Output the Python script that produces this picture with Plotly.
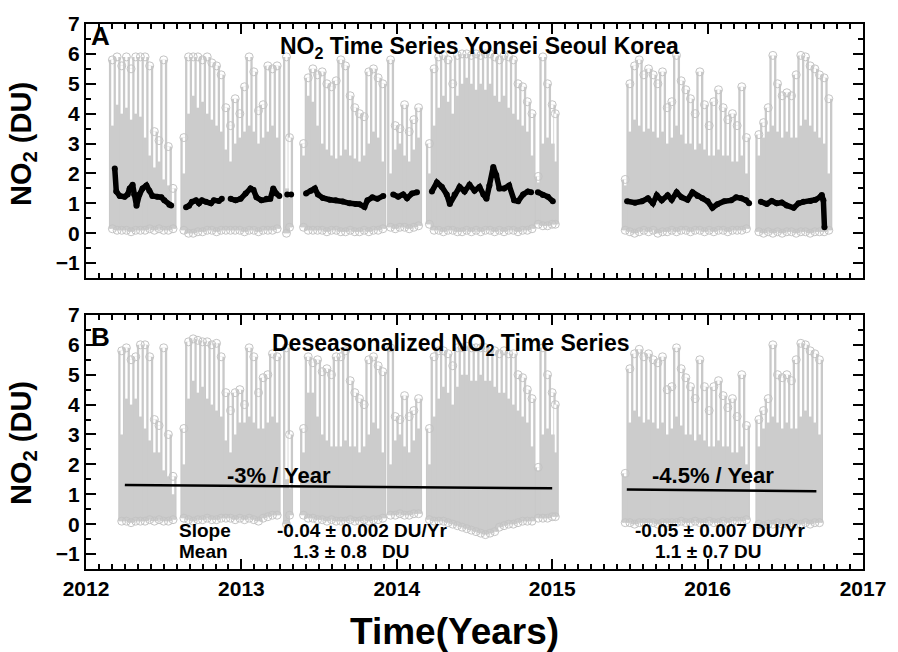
import math
import plotly.graph_objects as go

nan = float("nan")

# ---- observation columns (decimal year) -------------------------------------
col_time = [
    2012.17, 2012.20, 2012.23, 2012.26, 2012.29, 2012.32, 2012.35, 2012.38, 2012.41, 2012.44, 2012.47, 2012.50, 2012.53, 2012.56,
    2012.63, 2012.66, 2012.69, 2012.72, 2012.75, 2012.78, 2012.81, 2012.84, 2012.87, 2012.90,
    2012.93, 2012.96, 2012.99, 2013.02, 2013.05, 2013.08, 2013.11, 2013.14, 2013.17, 2013.20, 2013.23,
    2013.29, 2013.31,
    2013.40, 2013.43, 2013.46, 2013.49, 2013.52, 2013.55, 2013.58, 2013.61, 2013.64, 2013.67, 2013.70, 2013.73, 2013.76, 2013.79, 2013.82, 2013.85, 2013.88, 2013.91,
    2013.96, 2013.99, 2014.02, 2014.05, 2014.08, 2014.11, 2014.14,
    2014.21, 2014.24, 2014.27, 2014.30, 2014.33, 2014.36, 2014.39, 2014.42, 2014.45, 2014.48, 2014.51, 2014.54, 2014.57, 2014.60, 2014.63, 2014.66, 2014.69, 2014.72, 2014.75, 2014.78, 2014.81, 2014.84, 2014.87,
    2014.91, 2014.94, 2014.97, 2015.00, 2015.02,
    2015.47, 2015.50, 2015.53, 2015.56, 2015.59, 2015.62, 2015.65, 2015.68, 2015.71, 2015.74, 2015.77, 2015.80, 2015.83, 2015.86, 2015.89, 2015.92, 2015.95, 2015.98, 2016.01, 2016.04, 2016.07, 2016.10, 2016.13, 2016.16, 2016.19, 2016.22, 2016.25,
    2016.33, 2016.36, 2016.39, 2016.42, 2016.45, 2016.48, 2016.51, 2016.54, 2016.57, 2016.60, 2016.63, 2016.66, 2016.69, 2016.72, 2016.75, 2016.78,
]

# Panel A: raw NO2 columns (DU) - lowest value, top of the dense band, highest value
a_low = [
    0.15, 0.10, 0.10, 0.10, 0.05, 0.10, 0.10, 0.10, 0.15, 0.10, 0.15, 0.10, 0.10, 0.15,
    0.10, 0.00, 0.00, 0.05, 0.05, 0.10, 0.10, 0.05, 0.10, 0.10,
    0.10, 0.10, 0.10, 0.05, 0.10, 0.10, 0.05, 0.10, 0.10, 0.10, 0.15,
    0.00, 0.20,
    0.20, 0.10, 0.10, 0.10, 0.10, 0.05, 0.10, 0.10, 0.05, 0.05, 0.10, 0.05, 0.05, 0.10, 0.05, 0.10, 0.10, 0.15,
    0.20, 0.15, 0.20, 0.20, 0.15, 0.20, 0.25,
    0.30, 0.10, 0.10, 0.05, 0.10, 0.10, 0.05, 0.05, 0.10, 0.05, 0.10, 0.05, 0.10, 0.10, 0.05, 0.10, 0.05, 0.10, 0.10, 0.05, 0.10, 0.10, 0.15,
    0.30, 0.25, 0.25, 0.30, 0.30,
    0.10, 0.05, 0.00, 0.05, 0.10, 0.05, 0.10, 0.00, 0.05, 0.05, 0.10, 0.05, 0.10, 0.10, 0.05, 0.10, 0.10, 0.05, 0.10, 0.05, 0.10, 0.10, 0.05, 0.10, 0.10, 0.10, 0.15,
    0.05, 0.00, 0.05, 0.00, 0.05, 0.00, 0.05, 0.05, 0.00, 0.05, 0.05, 0.00, 0.05, 0.05, 0.05, 0.10,
]
a_dense = [
    3.6, 4.3, 4.0, 4.2, 3.8, 4.0, 3.9, 3.2, 2.6, 2.2, 2.4, 1.8, 1.6, 1.0,
    2.0, 4.0, 4.6, 4.2, 4.4, 4.0, 3.8, 3.6, 3.4, 2.8,
    2.4, 3.0, 3.2, 3.4, 3.6, 3.4, 3.0, 3.2, 3.4, 3.6, 3.2,
    1.5, 1.2,
    2.6, 4.6, 4.4, 3.6, 3.0, 2.8, 2.6, 2.5, 2.6, 2.8, 2.6, 2.5, 2.4, 2.6, 3.0, 3.4, 3.2, 2.4,
    2.0, 2.8, 3.0, 2.6, 2.4, 2.8, 3.2,
    2.0, 3.6, 4.2, 4.6, 4.4, 4.0, 4.6, 5.0, 5.2, 5.0, 4.8, 5.0, 4.8, 5.0, 4.6, 4.4, 4.6, 4.2, 4.0, 3.8, 3.6, 3.4, 2.6,
    1.7, 3.0, 3.2, 3.0, 2.4,
    1.6, 3.4, 3.8, 3.6, 3.4, 3.5, 3.4, 3.2, 3.4, 3.0, 3.2, 3.6, 3.3, 3.0, 3.0, 2.8, 3.0, 2.8, 2.6, 2.6, 2.8, 2.6, 2.6, 2.4, 2.4, 2.6, 2.0,
    2.6, 3.2, 3.4, 3.6, 3.4, 3.2, 3.4, 3.2, 3.2, 3.6, 3.8, 3.6, 3.4, 3.2, 3.0, 2.0,
]
a_peak = [
    5.8, 5.9, 5.6, 5.9, 5.5, 5.9, 5.9, 5.9, 5.6, 3.4, 3.1, 5.8, 2.9, 1.5,
    3.2, 5.9, 5.9, 5.9, 5.8, 5.9, 5.7, 5.6, 5.3, 4.2,
    3.6, 4.5, 4.0, 4.9, 5.9, 5.4, 4.1, 4.3, 5.6, 5.5, 5.6,
    5.9, 3.2,
    3.0, 5.2, 5.5, 5.3, 5.4, 5.0, 4.9, 5.1, 5.8, 5.6, 4.6, 4.2, 4.0, 3.9, 5.4, 5.5, 5.2, 5.0,
    5.8, 3.6, 3.5, 4.3, 3.4, 3.8, 4.2,
    3.0, 5.5, 5.9, 5.95, 5.8, 5.0, 5.95, 6.0, 6.0, 5.95, 6.0, 5.95, 6.0, 6.0, 5.9, 5.8, 5.95, 5.9, 5.8, 5.0, 4.9, 4.4, 4.0,
    1.9, 5.9, 5.0, 4.3, 4.0,
    1.8, 5.0, 5.6, 5.8, 5.3, 5.5, 5.3, 5.0, 5.4, 4.2, 4.4, 5.95, 5.1, 4.8, 4.5, 4.0, 5.4, 4.3, 3.6, 4.4, 4.8, 4.2, 3.8, 4.0, 3.6, 4.9, 3.2,
    3.3, 3.7, 4.2, 5.95, 5.0, 4.6, 4.7, 4.6, 5.3, 5.95, 5.9, 5.6, 5.5, 5.3, 5.2, 4.5,
]

# Panel B: deseasonalized NO2 columns (DU)
b_low = [
    nan, nan, 0.10, 0.10, 0.05, 0.10, 0.10, 0.10, 0.15, 0.10, 0.15, 0.10, 0.10, 0.15,
    0.20, 0.15, 0.10, 0.15, 0.15, 0.20, 0.15, 0.15, 0.20, 0.20,
    0.20, 0.15, 0.20, 0.15, 0.20, 0.15, 0.10, 0.20, 0.25, 0.30, 0.30,
    0.00, 0.30,
    0.30, 0.20, 0.20, 0.15, 0.15, 0.10, 0.15, 0.10, 0.10, 0.10, 0.15, 0.10, 0.10, 0.15, 0.10, 0.15, 0.15, 0.20,
    0.30, 0.30, 0.35, 0.30, 0.30, 0.35, 0.35,
    0.15, 0.10, 0.10, 0.10, 0.05, 0.00, -0.05, -0.10, -0.15, -0.20, -0.25, -0.30, -0.35, -0.30, -0.25, -0.10, -0.05, 0.00, 0.00, 0.05, 0.10, 0.10, 0.10,
    0.20, 0.20, 0.20, 0.25, 0.25,
    0.05, 0.05, 0.00, 0.05, 0.05, 0.05, 0.05, 0.00, 0.05, 0.05, 0.05, 0.05, 0.10, 0.05, 0.05, 0.10, 0.05, 0.05, 0.10, 0.05, 0.05, 0.10, 0.05, 0.10, 0.10, 0.10, 0.15,
    0.00, -0.05, 0.00, 0.00, 0.05, 0.00, 0.00, 0.05, 0.00, 0.00, 0.05, 0.00, 0.05, 0.05, nan, nan,
]
b_dense = [
    nan, nan, 3.0, 4.2, 4.0, 4.2, 3.6, 3.2, 2.8, 2.4, 2.4, 1.8, 1.6, 1.0,
    2.0, 4.2, 4.8, 4.4, 4.6, 4.2, 4.0, 3.8, 3.6, 2.8,
    2.4, 3.0, 3.4, 3.4, 3.6, 3.4, 3.2, 3.2, 3.4, 3.6, 3.4,
    1.5, 1.2,
    2.4, 4.4, 4.4, 3.6, 3.0, 2.8, 2.6, 2.6, 2.6, 2.8, 2.6, 2.6, 2.4, 2.6, 3.0, 3.4, 3.2, 2.4,
    2.0, 2.8, 3.0, 2.6, 2.4, 2.8, 3.2,
    2.0, 3.6, 4.2, 4.6, 4.4, 4.0, 4.6, 5.0, 5.0, 4.8, 4.8, 5.0, 4.8, 4.8, 4.6, 4.4, 4.4, 4.2, 4.0, 3.8, 3.6, 3.4, 2.6,
    1.8, 3.0, 3.2, 3.0, 2.4,
    1.6, 3.4, 3.8, 3.6, 3.4, 3.5, 3.4, 3.2, 3.4, 3.0, 3.2, 3.6, 3.3, 3.0, 3.0, 2.8, 3.0, 2.8, 2.6, 2.6, 2.8, 2.6, 2.6, 2.4, 2.4, 2.6, 2.0,
    2.6, 3.2, 3.4, 3.6, 3.4, 3.2, 3.4, 3.2, 3.2, 3.6, 3.8, 3.6, 3.4, 3.0, nan, nan,
]
b_peak = [
    nan, nan, 5.8, 5.9, 5.5, 5.6, 6.0, 6.0, 5.6, 3.5, 3.3, 5.9, 3.0, 1.6,
    3.2, 6.1, 6.2, 6.15, 6.1, 6.1, 6.0, 6.05, 5.6, 4.4,
    3.8, 4.4, 4.5, 4.0, 5.9, 5.6, 4.4, 4.9, 5.0, 5.7, 5.6,
    5.9, 3.0,
    3.2, 5.6, 5.4, 5.5, 5.1, 5.2, 5.0, 5.6, 5.6, 5.8, 4.8, 4.4, 4.2, 4.0, 5.5, 5.6, 5.3, 5.1,
    5.9, 3.6, 3.5, 4.3, 3.6, 3.8, 4.2,
    3.2, 5.6, 5.8, 5.8, 5.7, 5.3, 5.9, 5.9, 5.95, 5.9, 5.9, 5.9, 5.9, 5.85, 5.8, 5.7, 5.8, 5.7, 5.7, 5.0, 4.9, 4.5, 4.2,
    1.9, 5.9, 5.0, 4.4, 4.0,
    1.7, 5.2, 5.7, 5.85, 5.6, 5.7, 5.5, 5.4, 5.6, 4.5, 4.6, 5.9, 5.2, 4.9, 4.6, 4.2, 5.5, 4.6, 3.8, 4.6, 4.8, 4.3, 3.9, 4.2, 3.6, 5.0, 3.3,
    3.5, 3.8, 4.2, 6.0, 5.0, 4.9, 5.0, 4.8, 5.5, 6.05, 6.0, 5.8, 5.7, 5.5, nan, nan,
]

# ---- running mean of panel A (None marks a data gap) ------------------------
run_time = [
    2012.185, 2012.195, 2012.217, 2012.249, 2012.268, 2012.281, 2012.300, 2012.310, 2012.325, 2012.344, 2012.364, 2012.389, 2012.408, 2012.427, 2012.459, 2012.485, 2012.504, 2012.536, 2012.548, None,
    2012.644, 2012.663, 2012.682, 2012.708, 2012.727, 2012.746, 2012.772, 2012.804, 2012.823, 2012.855, 2012.874, None,
    2012.931, 2012.963, 2012.995, 2013.027, 2013.059, 2013.078, 2013.097, 2013.129, 2013.161, 2013.186, 2013.205, 2013.224, 2013.244, None,
    2013.295, None, 2013.320, None,
    2013.416, 2013.448, 2013.473, 2013.492, 2013.524, 2013.569, 2013.607, 2013.652, 2013.696, 2013.735, 2013.760, 2013.792, 2013.811, 2013.843, 2013.875, 2013.913, None,
    2013.977, 2014.009, 2014.041, 2014.066, 2014.098, 2014.130, None,
    2014.226, 2014.258, 2014.290, 2014.321, 2014.341, 2014.372, 2014.404, 2014.436, 2014.468, 2014.500, 2014.532, 2014.557, 2014.577, 2014.596, 2014.621, 2014.640, 2014.660, 2014.691, 2014.723, 2014.755, 2014.781, 2014.813, 2014.844, 2014.864, None,
    2014.908, 2014.940, 2014.972, 2015.004, None,
    2015.482, 2015.533, 2015.578, 2015.616, 2015.648, 2015.673, 2015.705, 2015.743, 2015.769, 2015.801, 2015.833, 2015.871, 2015.903, 2015.935, 2015.967, 2016.000, 2016.031, 2016.063, 2016.107, 2016.152, 2016.184, 2016.216, 2016.248, 2016.267, None,
    2016.343, 2016.381, 2016.413, 2016.445, 2016.477, 2016.509, 2016.554, 2016.585, 2016.617, 2016.662, 2016.694, 2016.726, 2016.735, 2016.745, 2016.752,
]
run_no2 = [
    2.17, 1.40, 1.25, 1.22, 1.30, 1.50, 1.62, 1.30, 0.92, 1.30, 1.50, 1.60, 1.42, 1.25, 1.22, 1.20, 1.10, 0.95, 0.93, None,
    0.87, 0.92, 1.05, 1.10, 1.00, 1.10, 1.05, 1.00, 1.10, 1.08, 1.15, None,
    1.15, 1.10, 1.15, 1.33, 1.50, 1.45, 1.20, 1.10, 1.15, 1.15, 1.50, 1.33, 1.25, None,
    1.30, None, 1.30, None,
    1.33, 1.42, 1.50, 1.30, 1.18, 1.12, 1.10, 1.06, 1.00, 0.98, 0.97, 0.88, 1.10, 1.20, 1.15, 1.25, None,
    1.30, 1.22, 1.30, 1.17, 1.33, 1.37, None,
    1.40, 1.70, 1.55, 1.30, 0.98, 1.30, 1.55, 1.40, 1.62, 1.42, 1.55, 1.30, 1.15, 1.60, 2.22, 1.95, 1.50, 1.50, 1.60, 1.10, 1.07, 1.30, 1.40, 1.37, None,
    1.37, 1.28, 1.22, 1.07, None,
    1.07, 1.02, 1.07, 1.17, 1.00, 1.27, 1.10, 1.27, 1.12, 1.37, 1.20, 1.12, 1.37, 1.25, 1.17, 1.07, 0.85, 0.97, 1.07, 1.10, 1.20, 1.17, 1.10, 1.00, None,
    1.05, 0.98, 1.08, 1.00, 1.03, 0.93, 0.85, 1.00, 1.05, 1.08, 1.12, 1.22, 1.28, 1.10, 0.20,
]

# ---- linear trends of the deseasonalized series -----------------------------
trend1_time = [2012.25, 2015.00]
trend1_no2 = [1.31, 1.20]
trend2_time = [2015.48, 2016.70]
trend2_no2 = [1.16, 1.10]

year_ticks = [2012, 2013, 2014, 2015, 2016, 2017]
no2_ticks = [-1, 0, 1, 2, 3, 4, 5, 6, 7]

FONT = "Liberation Sans, Arial, sans-serif"
GREY = "#cccccc"


def is_missing(v):
    return v is None or (isinstance(v, float) and math.isnan(v))


def column_segments(xs, lows, highs):
    """Vertical segments low->high for each column, separated by gaps."""
    X, Y = [], []
    for x, lo, hi in zip(xs, lows, highs):
        if is_missing(lo) or is_missing(hi):
            continue
        X += [x, x, None]
        Y += [lo, hi, None]
    return X, Y


def cloud_traces(lows, dense, peaks, xa, ya):
    traces = []
    # sparse upper part: hollow streaks of observations
    X, Y = column_segments(col_time, lows, peaks)
    traces.append(go.Scatter(x=X, y=Y, mode="lines", xaxis=xa, yaxis=ya,
                             line=dict(color="#c9c9c9", width=7), hoverinfo="skip"))
    traces.append(go.Scatter(x=X, y=Y, mode="lines", xaxis=xa, yaxis=ya,
                             line=dict(color="white", width=2.4), hoverinfo="skip"))
    # dense lower band
    X, Y = column_segments(col_time, lows, dense)
    traces.append(go.Scatter(x=X, y=Y, mode="lines", xaxis=xa, yaxis=ya,
                             line=dict(color=GREY, width=5), hoverinfo="skip"))
    # outermost observations of each column
    px, py = [], []
    for x, lo, hi in zip(col_time, lows, peaks):
        if is_missing(hi):
            continue
        px += [x, x]
        py += [hi, lo]
    traces.append(go.Scatter(x=px, y=py, mode="markers", xaxis=xa, yaxis=ya,
                             marker=dict(symbol="circle-open", size=8,
                                         color="#c4c4c4", line=dict(width=1)),
                             hoverinfo="skip"))
    return traces


fig = go.Figure()
for tr in cloud_traces(a_low, a_dense, a_peak, "x", "y"):
    fig.add_trace(tr)
fig.add_trace(go.Scatter(x=run_time, y=run_no2, mode="lines+markers", xaxis="x", yaxis="y",
                         line=dict(color="black", width=5.5), marker=dict(color="black", size=6),
                         connectgaps=False, hoverinfo="skip"))

for tr in cloud_traces(b_low, b_dense, b_peak, "x2", "y2"):
    fig.add_trace(tr)
for tx, ty in ((trend1_time, trend1_no2), (trend2_time, trend2_no2)):
    fig.add_trace(go.Scatter(x=tx, y=ty, mode="lines", xaxis="x2", yaxis="y2",
                             line=dict(color="black", width=2.5), hoverinfo="skip"))

axis_common = dict(
    showline=True, linewidth=2, linecolor="black", mirror="allticks",
    ticks="inside", ticklen=10, tickwidth=2, tickcolor="black",
    showgrid=False, zeroline=False,
    tickfont=dict(family=FONT, size=21, color="black", weight="bold"),
)
x_common = dict(axis_common, range=[2012, 2017], tickvals=year_ticks,
                minor=dict(dtick=1 / 12, tick0=2012, ticks="inside", ticklen=5,
                           tickwidth=2, tickcolor="black"))
y_common = dict(axis_common, range=[-1.5, 7], tickvals=no2_ticks,
                minor=dict(dtick=0.5, tick0=0, ticks="inside", ticklen=5,
                           tickwidth=2, tickcolor="black"))

fig.update_layout(
    width=898, height=652,
    margin=dict(l=86, r=28, t=22, b=83),
    paper_bgcolor="white", plot_bgcolor="white",
    showlegend=False,
    xaxis=dict(x_common, anchor="y", domain=[0, 1], showticklabels=False),
    yaxis=dict(y_common, anchor="x", domain=[0.5338, 1]),
    xaxis2=dict(x_common, anchor="y2", domain=[0, 1]),
    yaxis2=dict(y_common, anchor="x2", domain=[0, 0.4662]),
)


def label(text, x, y, size, xref="x", yref="y", xanchor="center", yanchor="middle", angle=0):
    fig.add_annotation(text=text, x=x, y=y, xref=xref, yref=yref,
                       xanchor=xanchor, yanchor=yanchor, textangle=angle,
                       showarrow=False,
                       font=dict(family=FONT, size=size, color="black", weight="bold"))


label("A", 2012.02, 6.6, 26, xanchor="left")
label("NO<sub>2</sub> Time Series Yonsei Seoul Korea", 2014.532, 6.2, 23)
label("B", 2012.02, 6.25, 26, xref="x2", yref="y2", xanchor="left")
label("Deseasonalized NO<sub>2</sub> Time Series", 2014.347, 6.0, 23, xref="x2", yref="y2")
label("-3% / Year", 2013.244, 1.63, 22, xref="x2", yref="y2")
label("-4.5% / Year", 2016.037, 1.63, 22, xref="x2", yref="y2")
label("Slope", 2012.587, -0.2, 19, xref="x2", yref="y2", xanchor="left")
label("Mean", 2012.587, -0.9, 19, xref="x2", yref="y2", xanchor="left")
label("-0.04 ± 0.002 DU/Yr", 2013.218, -0.2, 19, xref="x2", yref="y2", xanchor="left")
label("1.3 ± 0.8", 2013.320, -0.9, 19, xref="x2", yref="y2", xanchor="left")
label("DU", 2013.894, -0.9, 19, xref="x2", yref="y2", xanchor="left")
label("-0.05 ± 0.007 DU/Yr", 2015.520, -0.2, 19, xref="x2", yref="y2", xanchor="left")
label("1.1 ± 0.7 DU", 2015.648, -0.9, 19, xref="x2", yref="y2", xanchor="left")

label("NO<sub>2</sub> (DU)", -0.0804, 0.779, 29, xref="paper", yref="paper", angle=-90)
label("NO<sub>2</sub> (DU)", -0.0804, 0.2303, 29, xref="paper", yref="paper", angle=-90)
label("Time(Years)", 0.4745, -0.1152, 37, xref="paper", yref="paper")

fig.write_html("out.html")
